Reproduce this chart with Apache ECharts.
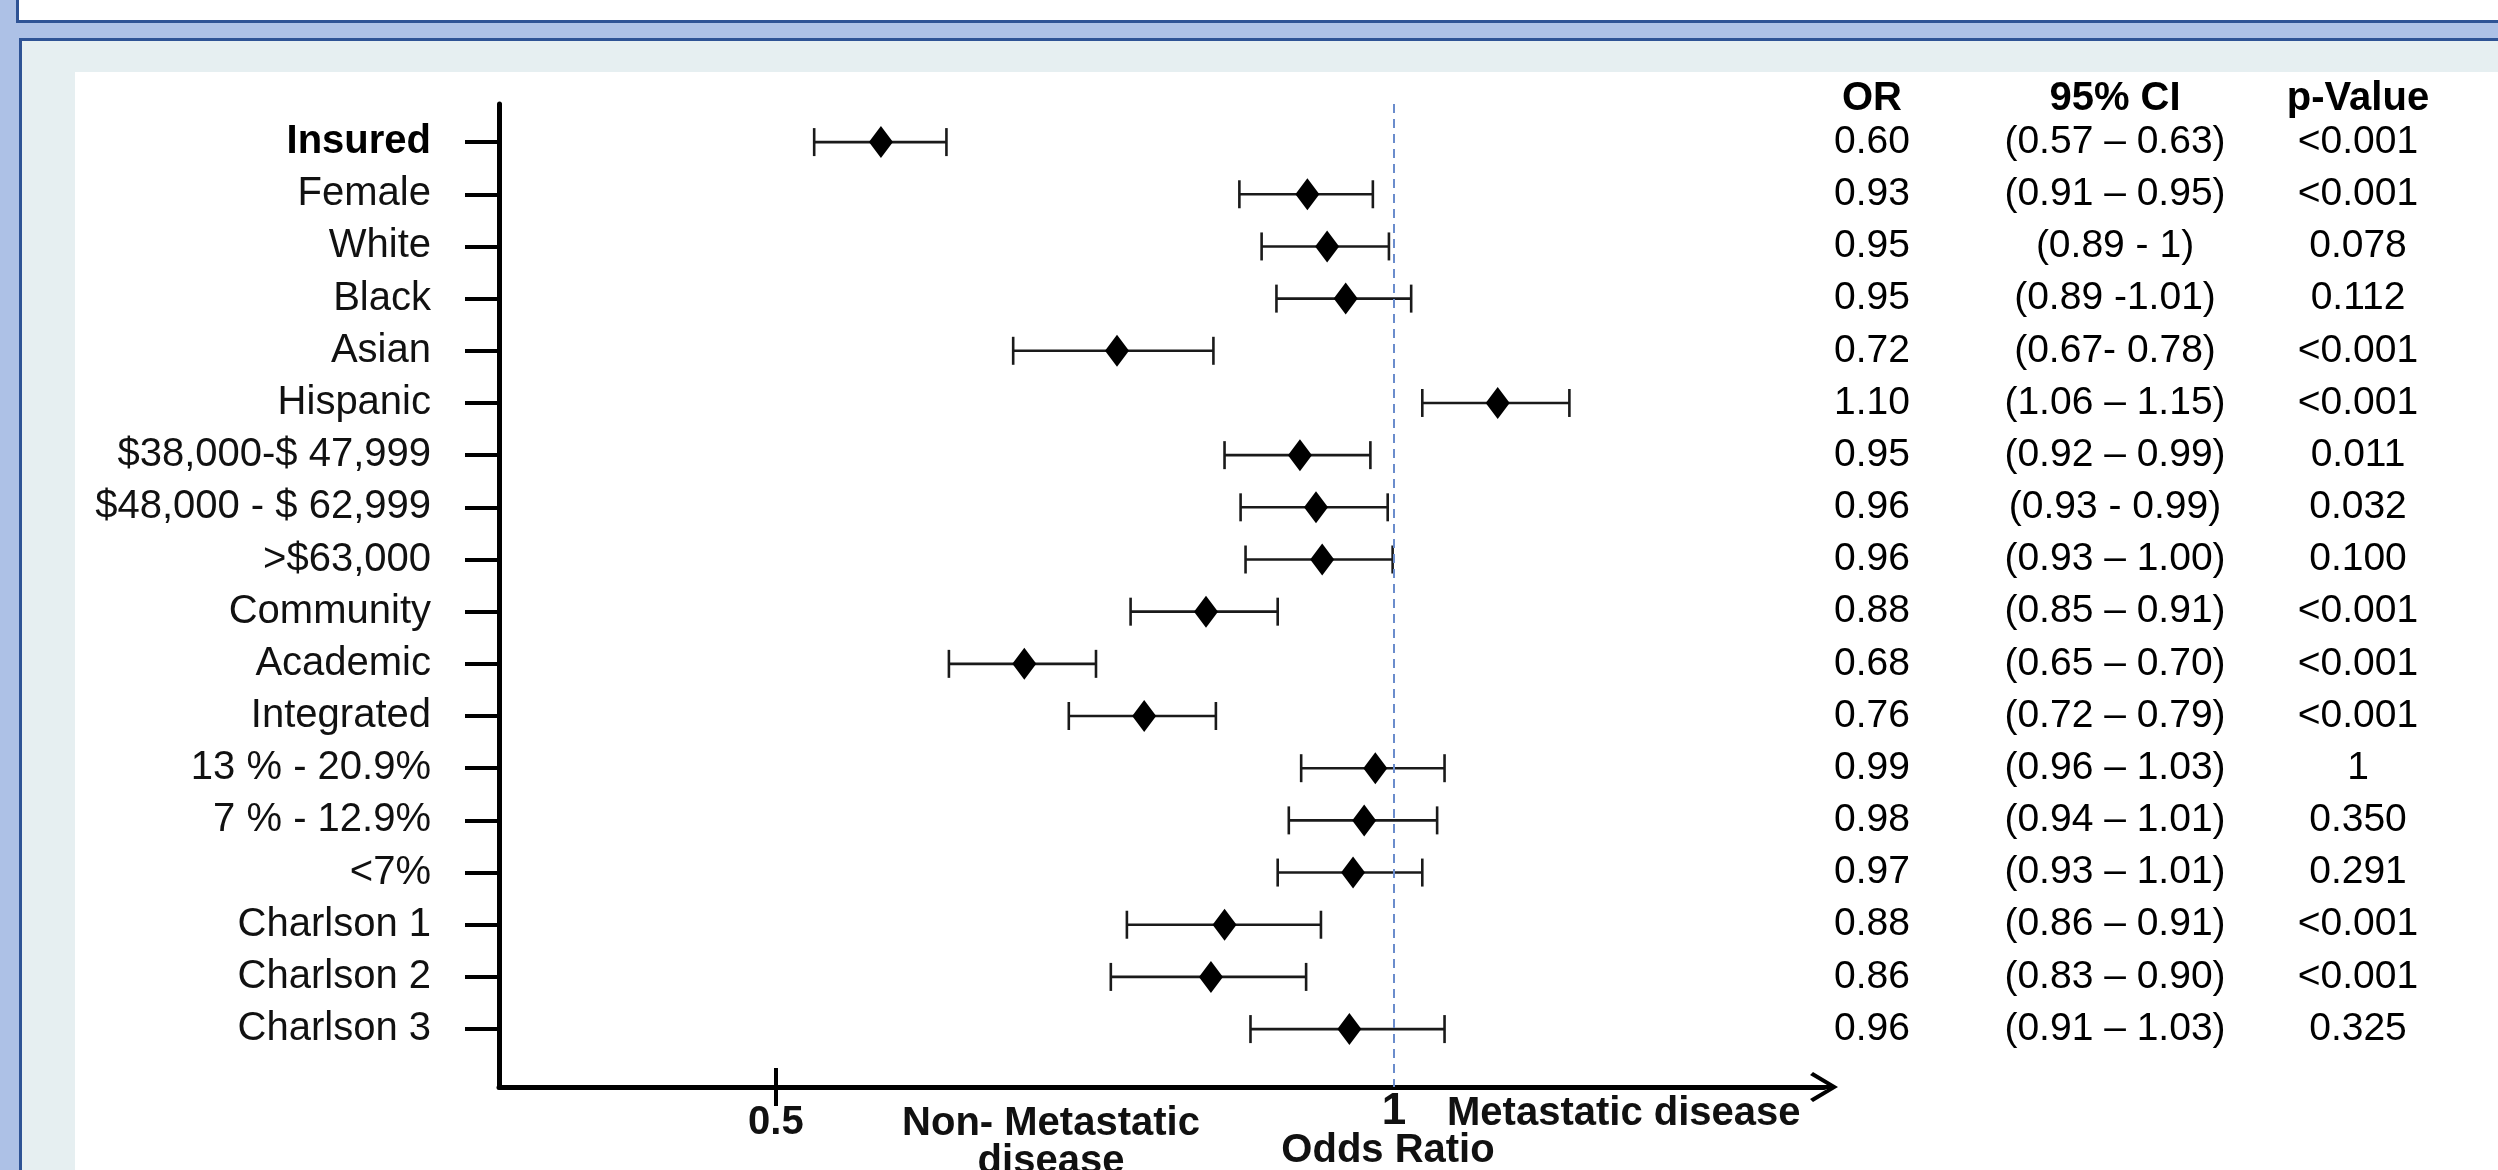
<!DOCTYPE html>
<html>
<head>
<meta charset="utf-8">
<script src="https://cdn.jsdelivr.net/npm/echarts@6/dist/echarts.min.js"></script>
<style>
html,body{margin:0;padding:0;width:2498px;height:1170px;overflow:hidden;background:#adc1e6;}
#titlebox{position:absolute;left:16px;top:-6px;width:2600px;height:23px;background:#fff;border:3px solid #2e5395;}
#panel{position:absolute;left:19px;top:38px;width:2600px;height:1300px;background:#e6eff1;border:3px solid #2e5395;}
#inner{position:absolute;left:75px;top:72px;width:2500px;height:1200px;background:#fff;}
#chart{position:absolute;left:0;top:0;width:2498px;height:1170px;}
</style>
</head>
<body>
<div id="titlebox"></div>
<div id="panel"></div>
<div id="inner"></div>
<div id="chart"></div>
<script>
// ---- data ----
const categories = ['Insured','Female','White','Black','Asian','Hispanic','$38,000-$ 47,999','$48,000 - $ 62,999','>$63,000','Community','Academic','Integrated','13 % - 20.9%','7 % - 12.9%','<7%','Charlson 1','Charlson 2','Charlson 3'];
// point estimates and whisker ends as drawn in the picture
const orPlotted   = [0.585,0.930,0.946,0.961,0.776,1.084,0.924,0.937,0.942,0.848,0.701,0.798,0.985,0.976,0.967,0.863,0.852,0.964];
const ciLowPlotted  = [0.531,0.875,0.893,0.905,0.692,1.023,0.863,0.876,0.880,0.787,0.640,0.737,0.925,0.915,0.906,0.784,0.771,0.884];
const ciHighPlotted = [0.638,0.983,0.996,1.014,0.854,1.142,0.981,0.995,0.999,0.906,0.759,0.856,1.041,1.035,1.023,0.941,0.929,1.041];
// table text
const tableHeaders = ['OR','95% CI','p-Value'];
const orText = ['0.60','0.93','0.95','0.95','0.72','1.10','0.95','0.96','0.96','0.88','0.68','0.76','0.99','0.98','0.97','0.88','0.86','0.96'];
const ciText = ['(0.57 – 0.63)','(0.91 – 0.95)','(0.89 - 1)','(0.89 -1.01)','(0.67- 0.78)','(1.06 – 1.15)','(0.92 – 0.99)','(0.93 - 0.99)','(0.93 – 1.00)','(0.85 – 0.91)','(0.65 – 0.70)','(0.72 – 0.79)','(0.96 – 1.03)','(0.94 – 1.01)','(0.93 – 1.01)','(0.86 – 0.91)','(0.83 – 0.90)','(0.91 – 1.03)'];
const pText = ['<0.001','<0.001','0.078','0.112','<0.001','<0.001','0.011','0.032','0.100','<0.001','<0.001','<0.001','1','0.350','0.291','<0.001','<0.001','0.325'];
const xTickLabels = ['0.5','1'];
const xTickValues = [0.5, 1];
const refValue = 1;

// ---- chart ----
const FONT = 'Liberation Sans, Arial, sans-serif';
const rows = categories.map((_, i) => i);
const chart = echarts.init(document.getElementById('chart'));

const tableSeries = [orText, ciText, pText].map((arr, col) => ({
  type: 'scatter', xAxisIndex: 2, yAxisIndex: 1,
  symbolSize: 1, itemStyle: {color: '#ffffff', opacity: 1},
  silent: true,
  data: arr.map((t, i) => [col, i]),
  label: {show: true, position: 'inside', formatter: p => arr[p.dataIndex],
          fontSize: 39, color: '#000', opacity: 1, textBorderWidth: 0, fontFamily: FONT}
}));

const arrowPath = 'path://M15,0 L30,25 L27,28 L17,11 L17,28 L13,28 L13,11 L3,28 L0,25 Z';

chart.setOption({
  animation: false,
  grid: [
    {left: 499, right: 674, top: 104, bottom: 83},
    {left: 1872, right: 140, top: 116, bottom: 83}
  ],
  xAxis: [
    {
      type: 'value', gridIndex: 0, min: 0.276, max: 1.348, position: 'bottom',
      splitLine: {show: false},
      axisLine: {onZero: false, lineStyle: {color: '#000', width: 5},
                 symbol: ['none', arrowPath], symbolSize: [30, 28]},
      axisTick: {show: true, customValues: [xTickValues[0]], length: 19, lineStyle: {color: '#000', width: 4}},
      axisLabel: {customValues: [xTickValues[0]], margin: 16, formatter: () => xTickLabels[0],
                  fontSize: 40, fontWeight: 'bold', color: '#111', fontFamily: FONT}
    },
    {
      type: 'value', gridIndex: 0, min: 0.276, max: 1.348, position: 'bottom',
      splitLine: {show: false},
      axisLine: {show: false, onZero: false},
      axisTick: {show: true, inside: true, customValues: [xTickValues[0]], length: 19, lineStyle: {color: '#000', width: 4}},
      axisLabel: {customValues: [xTickValues[1]], margin: 3, formatter: () => xTickLabels[1],
                  fontSize: 44, fontWeight: 'bold', color: '#111', fontFamily: FONT}
    },
    {
      type: 'category', gridIndex: 1, data: tableHeaders, boundaryGap: false, position: 'top',
      axisLine: {show: false}, axisTick: {show: false},
      axisLabel: {interval: 0, margin: -3, fontSize: 40, fontWeight: 'bold', color: '#000', fontFamily: FONT}
    }
  ],
  yAxis: [
    {
      type: 'value', gridIndex: 0, inverse: true, min: -0.73, max: 18.11,
      splitLine: {show: false},
      axisLine: {show: true, onZero: false, lineStyle: {color: '#000', width: 5}},
      axisTick: {show: true, customValues: rows, length: 34, lineStyle: {color: '#000', width: 4}},
      axisLabel: {
        customValues: rows, margin: 68,
        formatter: v => (v === 0 ? '{b|' + categories[v] + '}' : categories[v]),
        fontSize: 40, color: '#111', fontFamily: FONT,
        rich: {b: {fontSize: 40, fontWeight: 'bold', color: '#000', fontFamily: FONT}}
      }
    },
    {type: 'value', gridIndex: 1, inverse: true, min: -0.5, max: 18.11, show: false}
  ],
  series: [
    {
      type: 'custom', xAxisIndex: 0, yAxisIndex: 0,
      data: categories.map((c, i) => [ciLowPlotted[i], ciHighPlotted[i], i]),
      encode: {x: [0, 1], y: 2},
      renderItem: function (params, api) {
        const lo = api.coord([api.value(0), api.value(2)]);
        const hi = api.coord([api.value(1), api.value(2)]);
        const h = 14;
        const style = {stroke: '#1a1a1a', lineWidth: 2.6};
        return {type: 'group', children: [
          {type: 'line', shape: {x1: lo[0], y1: lo[1], x2: hi[0], y2: hi[1]}, style: style},
          {type: 'line', shape: {x1: lo[0], y1: lo[1] - h, x2: lo[0], y2: lo[1] + h}, style: style},
          {type: 'line', shape: {x1: hi[0], y1: hi[1] - h, x2: hi[0], y2: hi[1] + h}, style: style}
        ]};
      }
    },
    {
      type: 'scatter', xAxisIndex: 0, yAxisIndex: 0,
      symbol: 'diamond', symbolSize: [24, 32],
      itemStyle: {color: '#000', opacity: 1},
      data: orPlotted.map((v, i) => [v, i]),
      z: 5,
      markLine: {
        silent: true, symbol: 'none', label: {show: false},
        lineStyle: {type: [9, 6], color: '#6a8ccc', width: 2, opacity: 1},
        data: [{xAxis: refValue}]
      }
    }
  ].concat(tableSeries),
  graphic: [
    {type: 'text', style: {text: 'Non- Metastatic\ndisease', x: 1051, y: 1105, align: 'center', verticalAlign: 'top',
      font: 'bold 40px ' + FONT, lineHeight: 38, fill: '#111'}},
    {type: 'text', style: {text: 'Metastatic disease', x: 1447, y: 1114, align: 'left', verticalAlign: 'middle',
      font: 'bold 40px ' + FONT, fill: '#111'}},
    {type: 'text', style: {text: 'Odds Ratio', x: 1388, y: 1151, align: 'center', verticalAlign: 'middle',
      font: 'bold 40px ' + FONT, fill: '#111'}}
  ]
});
</script>
</body>
</html>
